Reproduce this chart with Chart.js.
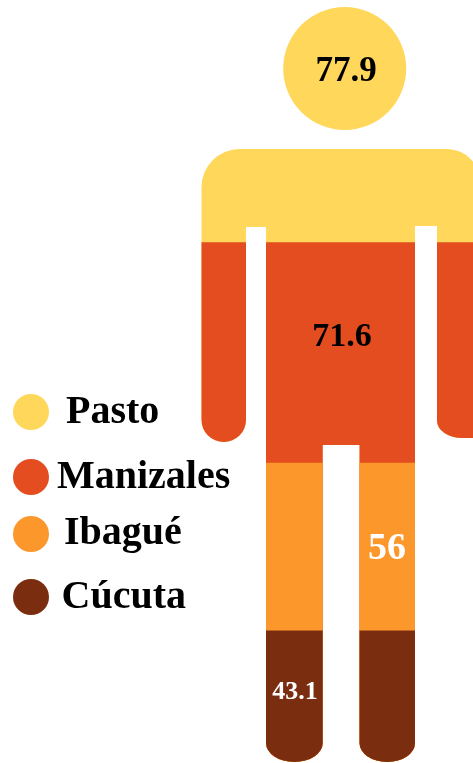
<!DOCTYPE html>
<html>
<head>
<meta charset="utf-8">
<style>html,body{margin:0;padding:0;background:#fff}canvas{display:block}</style>
<script src="https://cdn.jsdelivr.net/npm/chart.js@4"></script>
</head>
<body>
<canvas id="c" width="473" height="763"></canvas>
<script>
const cities = ['Pasto', 'Manizales', 'Ibagué', 'Cúcuta'];
const values = [77.9, 71.6, 56, 43.1];
const valueTexts = ['77.9', '71.6', '56', '43.1'];
const colors = ['#FFD75A', '#E34D20', '#FC982B', '#7B2D0F'];
const FONT = '"Liberation Serif"';

class PowerScale extends Chart.LinearScale {
  static id = 'power';
  static defaults = Chart.LinearScale.defaults;
  _t(v) { return Math.pow(v, this.options.exponent); }
  getPixelForValue(v) {
    const lo = this._t(this.options.min), hi = this._t(this.options.max);
    return this.getPixelForDecimal((this._t(v) - lo) / (hi - lo));
  }
  getValueForPixel(p) {
    const lo = this._t(this.options.min), hi = this._t(this.options.max);
    return Math.pow(lo + this.getDecimalForPixel(p) * (hi - lo), 1 / this.options.exponent);
  }
}
Chart.register(PowerScale);

function bodyPath(ctx) {
  const P = Math.PI;
  ctx.beginPath();
  ctx.moveTo(201.5, 187);
  ctx.ellipse(239.5, 187, 38, 38, 0, P, 1.5 * P);
  ctx.lineTo(447, 149);
  ctx.ellipse(447, 182, 33, 33, 0, 1.5 * P, 2 * P);
  ctx.lineTo(480, 438);
  ctx.lineTo(462, 438);
  ctx.ellipse(462, 421, 25, 17, 0, 0.5 * P, P);
  ctx.lineTo(437, 226);
  ctx.lineTo(415, 226);
  ctx.lineTo(415, 743);
  ctx.ellipse(387.25, 743, 27.75, 19, 0, 0, P);
  ctx.lineTo(359.5, 445);
  ctx.lineTo(322.7, 445);
  ctx.lineTo(322.7, 743);
  ctx.ellipse(294.35, 743, 28.35, 19, 0, 0, P);
  ctx.lineTo(266, 227);
  ctx.lineTo(246, 227);
  ctx.lineTo(246, 420);
  ctx.ellipse(223.75, 420, 22.25, 22, 0, 0, P);
  ctx.closePath();
}

const silhouette = {
  id: 'silhouette',
  beforeDatasetsDraw(chart) {
    const ctx = chart.ctx;
    ctx.save();
    bodyPath(ctx);
    ctx.clip();
  },
  afterDatasetsDraw(chart) {
    const ctx = chart.ctx;
    ctx.restore();
    ctx.save();
    // head
    ctx.fillStyle = colors[0];
    ctx.beginPath();
    ctx.arc(344.7, 68.5, 61.5, 0, 2 * Math.PI);
    ctx.fill();
    // value labels
    const spots = [
      {x: 346, y: 81, size: 35, color: '#000'},
      {x: 342, y: 346, size: 34, color: '#000'},
      {x: 387, y: 559, size: 38, color: '#fff'},
      {x: 295, y: 699, size: 26, color: '#fff'}
    ];
    ctx.textAlign = 'center';
    ctx.textBaseline = 'alphabetic';
    valueTexts.forEach((t, i) => {
      const s = spots[i];
      ctx.font = 'bold ' + s.size + 'px ' + FONT;
      ctx.fillStyle = s.color;
      ctx.fillText(t, s.x, s.y);
    });
    // legend
    const legendRows = [
      {cy: 412, tx: 66, ty: 423},
      {cy: 477, tx: 57, ty: 488},
      {cy: 534, tx: 64, ty: 544},
      {cy: 597, tx: 61.5, ty: 608}
    ];
    ctx.textAlign = 'left';
    ctx.font = 'bold 40px ' + FONT;
    cities.forEach((name, i) => {
      const r = legendRows[i];
      ctx.fillStyle = colors[i];
      ctx.beginPath();
      ctx.arc(31, r.cy, 18, 0, 2 * Math.PI);
      ctx.fill();
      ctx.fillStyle = '#000';
      ctx.fillText(name, r.tx, r.ty);
    });
    ctx.restore();
  }
};

new Chart(document.getElementById('c'), {
  type: 'bar',
  data: {
    labels: ['Esperanza'],
    datasets: cities.map((name, i) => ({
      label: name,
      data: [values[i]],
      backgroundColor: colors[i],
      borderWidth: 0,
      order: 3 - i,
      grouped: false,
      barPercentage: 1,
      categoryPercentage: 1
    }))
  },
  options: {
    responsive: false,
    animation: false,
    layout: {padding: 0},
    plugins: {legend: {display: false}, tooltip: {enabled: false}},
    scales: {
      x: {display: false},
      y: {type: 'power', display: false, exponent: 1.33, min: 31.97, max: 87.55}
    }
  },
  plugins: [silhouette]
});
</script>
</body>
</html>
